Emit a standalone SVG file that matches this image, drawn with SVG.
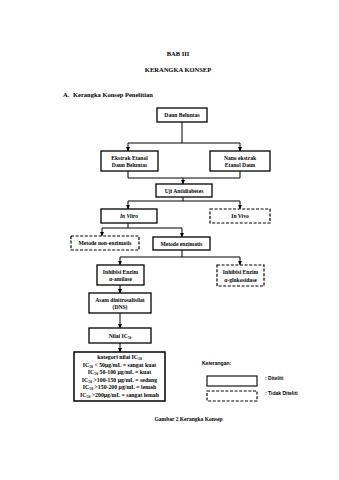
<svg xmlns="http://www.w3.org/2000/svg" width="339" height="480" viewBox="0 0 339 480">
<defs>
<marker id="ah" markerWidth="4" markerHeight="4" refX="4" refY="2" orient="auto" markerUnits="userSpaceOnUse">
<path d="M0,0 L4,2 L0,4 Z" fill="#000"/>
</marker>
<style>
text{font-family:"Liberation Serif","Times New Roman",serif;font-weight:bold;fill:#000;}
.t{font-size:6.5px;text-anchor:middle;}
.n{font-size:5.6px;text-anchor:middle;}
.k{font-size:5.8px;text-anchor:middle;}
.s{font-family:"Liberation Sans",Arial,sans-serif;font-size:5px;}
.box{fill:#fff;stroke:#000;stroke-width:1.3;}
.dash{fill:#fff;stroke:#000;stroke-width:1.2;stroke-dasharray:3,1.6;}
.c{fill:none;stroke:#000;stroke-width:1;}
.a{fill:none;stroke:#000;stroke-width:1;marker-end:url(#ah);}
</style>
</defs>
<rect width="339" height="480" fill="#fff"/>
<text class="t" x="178" y="55.5">BAB III</text>
<text class="t" x="178" y="71.5">KERANGKA KONSEP</text>
<text x="63" y="96.5" style="font-size:6.5px">A.</text>
<text x="73" y="96.5" style="font-size:6.5px">Kerangka Konsep Penelitian</text>

<g id="connectors">
<path class="c" d="M182,122 V143 M128,143 H240"/>
<path class="a" d="M128,143 V151"/>
<path class="a" d="M240,143 V151"/>
<path class="c" d="M128,171 V178 M240,171 V178 M128,178 H240"/>
<path class="a" d="M183,178 V184"/>
<path class="c" d="M183,197 V201 M128,201 H240"/>
<path class="a" d="M128,201 V209"/>
<path class="a" d="M240,201 V209"/>
<path class="c" d="M128,223 V228 M102,228 H182"/>
<path class="a" d="M102,228 V236"/>
<path class="a" d="M182,228 V237"/>
<path class="c" d="M182,250 V257 M120,257 H240"/>
<path class="a" d="M120,257 V265"/>
<path class="a" d="M240,257 V265"/>
<path class="a" d="M120,285 V293"/>
<path class="a" d="M120,313 V328"/>
<path class="a" d="M120,343 V352"/>
</g>

<g id="daun">
<rect class="box" x="157" y="108" width="50" height="14"/>
<text class="n" x="182" y="117">Daun Beluntas</text>
</g>
<g id="ekstrak">
<rect class="box" x="101" y="151" width="57" height="20"/>
<text class="n" x="129.5" y="160">Ekstrak Etanol</text>
<text class="n" x="129.5" y="167">Daun Beluntas</text>
</g>
<g id="nano">
<rect class="box" x="210" y="151" width="60" height="20"/>
<text class="n" x="240" y="160">Nano ekstrak</text>
<text class="n" x="240" y="167">Etanol Daun</text>
</g>
<g id="uji">
<rect class="box" x="156" y="184" width="56" height="13"/>
<text class="n" x="184" y="192.5">Uji Antidiabetes</text>
</g>
<g id="invitro">
<rect class="box" x="101" y="209" width="56" height="14"/>
<text class="n" x="129" y="218" font-style="italic">In Vitro</text>
</g>
<g id="invivo">
<rect class="dash" x="210" y="209" width="60" height="14"/>
<text class="n" x="240" y="218">In Vivo</text>
</g>
<g id="nonenzimatis">
<rect class="dash" x="71" y="236" width="68" height="14"/>
<text class="n" x="105" y="245">Metode non-enzimatis</text>
</g>
<g id="enzimatis">
<rect class="box" x="153" y="237" width="57" height="13"/>
<text class="n" x="181.5" y="245.5">Metode enzimatis</text>
</g>
<g id="amilase">
<rect class="box" x="97" y="265" width="47" height="20"/>
<text class="n" x="120.5" y="274">Inhibisi Enzim</text>
<text class="n" x="120.5" y="281">α-amilase</text>
</g>
<g id="glukosidase">
<rect class="dash" x="217" y="265" width="47" height="21"/>
<text class="n" x="240.5" y="274">Inhibisi Enzim</text>
<text class="n" x="240.5" y="281.5">α-glukosidase</text>
</g>
<g id="dns">
<rect class="box" x="89" y="293" width="62" height="20"/>
<text class="n" x="120" y="302">Asam dinitrosalisilat</text>
<text class="n" x="120" y="309">(DNS)</text>
</g>
<g id="nilai">
<rect class="box" x="89" y="328" width="62" height="15"/>
<text class="n" x="120" y="337.5">Nilai IC<tspan font-size="3.6px" dy="1">50</tspan></text>
</g>
<g id="kategori">
<rect class="box" x="74" y="352" width="91" height="49" style="stroke-width:1.5"/>
<text class="k" x="119.5" y="359">kategori nilai IC<tspan font-size="3.8px" dy="1">50</tspan></text>
<text class="k" x="119.5" y="366.5">IC<tspan font-size="3.8px" dy="1">50</tspan><tspan dy="-1"> &lt; 50µg/mL = sangat kuat</tspan></text>
<text class="k" x="119.5" y="374">IC<tspan font-size="3.8px" dy="1">50</tspan><tspan dy="-1"> 50-100 µg/mL = kuat</tspan></text>
<text class="k" x="119.5" y="381.5">IC<tspan font-size="3.8px" dy="1">50</tspan><tspan dy="-1"> &gt;100-150 µg/mL = sedang</tspan></text>
<text class="k" x="119.5" y="389">IC<tspan font-size="3.8px" dy="1">50</tspan><tspan dy="-1"> &gt;150-200 µg/mL = lemah</tspan></text>
<text class="k" x="119.5" y="396.5">IC<tspan font-size="3.8px" dy="1">50</tspan><tspan dy="-1"> &gt;200µg/mL = sangat lemah</tspan></text>
</g>

<g id="legend">
<text class="s" x="202" y="365">Keterangan:</text>
<rect class="box" x="207" y="376" width="50" height="10" style="stroke-width:1.1"/>
<text class="s" x="265" y="380">: Diteliti</text>
<rect class="dash" x="207" y="391" width="50" height="10" style="stroke-width:1.1"/>
<text class="s" x="265" y="395">: Tidak Diteliti</text>
</g>

<text x="188.5" y="421" style="font-size:5.5px;text-anchor:middle">Gambar 2 Kerangka Konsep</text>
</svg>
